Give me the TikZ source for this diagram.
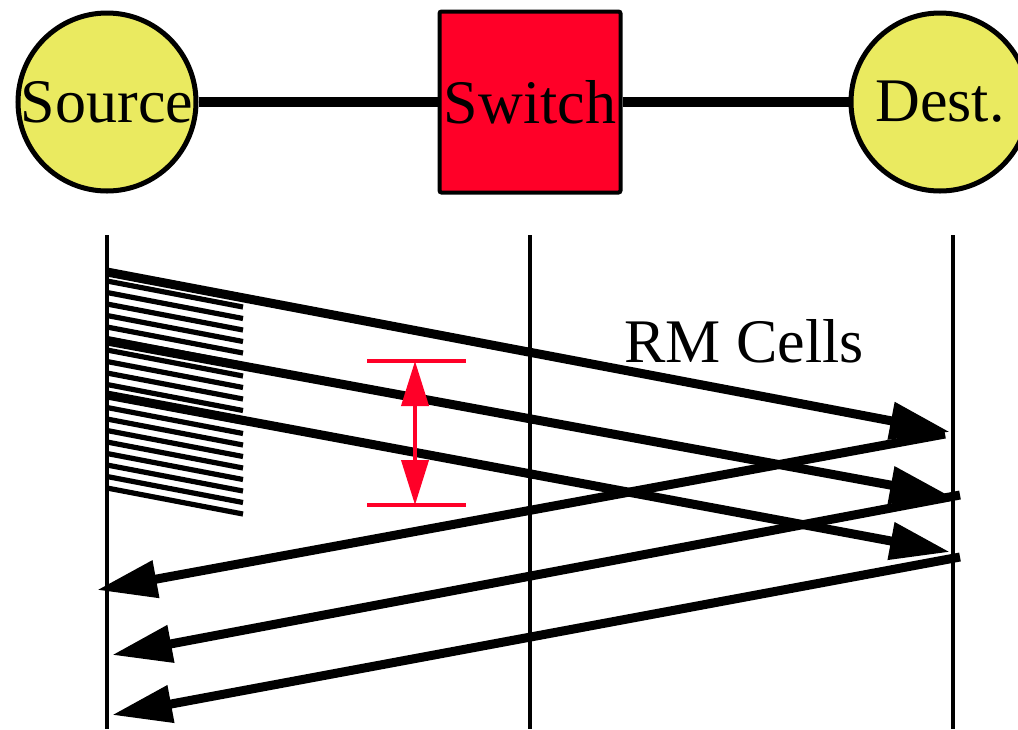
\documentclass[tikz,border=0pt]{standalone}
\usepackage{fontspec}
\setmainfont{Liberation Serif}
\usepackage{tikz}
\usetikzlibrary{arrows.meta,positioning,calc}
\definecolor{nodeyellow}{RGB}{234,234,96}
\definecolor{switchred}{RGB}{255,0,40}
\definecolor{lineblack}{RGB}{0,0,0}
\tikzset{
  station/.style={circle,draw=lineblack,line width=2.5pt,fill=nodeyellow,
    minimum size=89pt,inner sep=0pt,font=\fontsize{31}{31}\selectfont},
  switchbox/.style={rectangle,draw=lineblack,line width=2pt,fill=switchred,
    minimum size=90.5pt,inner sep=0pt,rounded corners=1pt,
    font=\fontsize{31}{31}\selectfont},
  link/.style={line width=5pt,color=lineblack},
  timeline/.style={line width=2.3pt,color=lineblack},
  hatch/.style={line width=2.6pt,color=lineblack},
  cellarrow/.style={-{Triangle[length=30pt,width=18pt]},line width=4.5pt,
    color=lineblack},
  gapbar/.style={line width=2pt,color=switchred},
  gaparrow/.style={{Triangle[length=22.5pt,width=13.5pt]}-{Triangle[length=22.5pt,width=13.5pt]},
    line width=2pt,color=switchred},
  celllabel/.style={font=\fontsize{31}{31}\selectfont,anchor=base west,inner sep=0pt},
}
\begin{document}
\begin{tikzpicture}[x=0.5pt,y=-0.5pt]
\clip (0,0) rectangle (1018,729);

%% ── stations ─────────────────────────────────────────────────────────────
\node[station] (src) at (107,102) {Source};
\node[switchbox] (sw) at (530,102) {Switch};
\node[station] (dst) at (940,102) {Dest.};
\draw[link] (src) -- (sw);
\draw[link] (sw) -- (dst);

%% ── time lines ───────────────────────────────────────────────────────────
\coordinate (srctop) at (107,235);
\coordinate (srcbot) at (107,729);
\coordinate (swtop) at (530,235);
\coordinate (swbot) at (530,729);
\coordinate (dsttop) at (953,235);
\coordinate (dstbot) at (953,729);
\draw[timeline] (srctop) -- (srcbot);
\draw[timeline] (swtop) -- (swbot);
\draw[timeline] (dsttop) -- (dstbot);

%% ── data cells ───────────────────────────────────────────────────────────
\foreach \k in {0,...,18}
  \draw[hatch] (107,{281+11.5*\k}) -- ++(136,26);

%% ── RM cells forward ─────────────────────────────────────────────────────
\coordinate (f1s) at (107,272);
\coordinate (f1e) at (950,432);
\coordinate (f2s) at (107,341);
\coordinate (f2e) at (950,496);
\coordinate (f3s) at (107,395);
\coordinate (f3e) at (950,552);
\draw[cellarrow] (f1s) -- (f1e);
\draw[cellarrow] (f2s) -- (f2e);
\draw[cellarrow] (f3s) -- (f3e);
\node[celllabel] (rm) at (624,362) {RM Cells};

%% ── RM cells back ────────────────────────────────────────────────────────
\coordinate (b1s) at (945,434);
\coordinate (b1e) at (97,590);
\coordinate (b2s) at (960,495);
\coordinate (b2e) at (112,655);
\coordinate (b3s) at (960,557);
\coordinate (b3e) at (112,715);
\draw[cellarrow] (b1s) -- (b1e);
\draw[cellarrow] (b2s) -- (b2e);
\draw[cellarrow] (b3s) -- (b3e);

%% ── spacing marker ───────────────────────────────────────────────────────
\coordinate (gtl) at (367,361);
\coordinate (gtr) at (466,361);
\coordinate (gbl) at (367,505);
\coordinate (gbr) at (466,505);
\draw[gapbar] (gtl) -- (gtr);
\draw[gapbar] (gbl) -- (gbr);
\draw[gaparrow] ($(gtl)!0.485!(gtr)$) -- ($(gbl)!0.485!(gbr)$);

\end{tikzpicture}
\end{document}
